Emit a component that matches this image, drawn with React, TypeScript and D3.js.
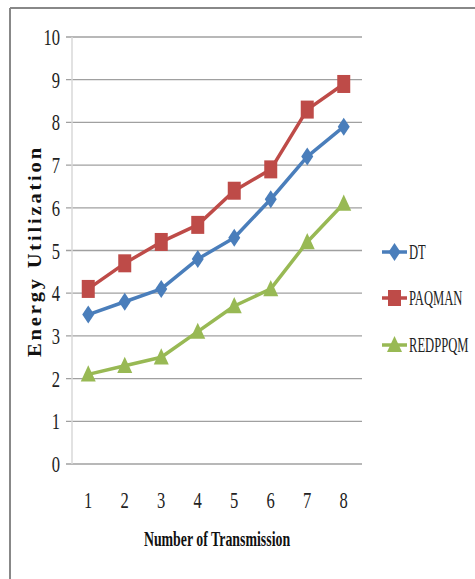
import React from "react";
import * as d3 from "d3";

const categories = [1, 2, 3, 4, 5, 6, 7, 8];
const dtValues = [3.5, 3.8, 4.1, 4.8, 5.3, 6.2, 7.2, 7.9];
const paqmanValues = [4.1, 4.7, 5.2, 5.6, 6.4, 6.9, 8.3, 8.9];
const redppqmValues = [2.1, 2.3, 2.5, 3.1, 3.7, 4.1, 5.2, 6.1];
const yTicks = [0, 1, 2, 3, 4, 5, 6, 7, 8, 9, 10];
const seriesNames = ["DT", "PAQMAN", "REDPPQM"];

const W = 475;
const H = 579;
const plotLeft = 70;
const plotRight = 362;
const plotTop = 37;
const plotBottom = 464;

const colors = ["#4a7ebb", "#be4b48", "#98b954"];
const numFont = "'Liberation Serif', serif";

function marker(kind: number, x: number, y: number, color: string, key: string) {
  if (kind === 0) {
    const s = 6, h = 9;
    return <path key={key} d={`M${x},${y - h}L${x + s},${y}L${x},${y + h}L${x - s},${y}Z`} fill={color} />;
  }
  if (kind === 1) {
    return <rect key={key} x={x - 6.5} y={y - 9} width={13} height={18} fill={color} />;
  }
  const s = 7.5, h = 9;
  return <path key={key} d={`M${x},${y - h}L${x + s},${y + h * 0.8}L${x - s},${y + h * 0.8}Z`} fill={color} />;
}

export default function App() {
  const x = d3.scaleBand<number>().domain(categories).range([plotLeft, plotRight]);
  const y = d3.scaleLinear().domain([0, 10]).range([plotBottom, plotTop]);
  const cx = (c: number) => (x(c) as number) + x.bandwidth() / 2;
  const series = [dtValues, paqmanValues, redppqmValues];
  const line = d3
    .line<number>()
    .x((_, i) => cx(categories[i]))
    .y((v) => y(v));

  const legendY = [252, 298, 345];

  return (
    <svg width={W} height={H} style={{ position: "absolute", left: 0, top: 0, background: "#fff" }}>
      <rect x={0} y={0} width={W} height={H} fill="#fff" />
      <line x1={10} x2={W} y1={8} y2={8} stroke="#888" strokeWidth={2} />
      <line x1={10} x2={10} y1={8} y2={H} stroke="#888" strokeWidth={2} />

      {yTicks.map((t) => (
        <g key={t}>
          <line x1={66} x2={plotRight} y1={y(t)} y2={y(t)} stroke="#a0a0a0" strokeWidth={1.3} />
          <text
            transform={`translate(60,${y(t) + 8}) scale(0.72,1)`}
            textAnchor="end"
            fontFamily={numFont}
            fontSize={23}
            fill="#222"
          >
            {t}
          </text>
        </g>
      ))}
      <line x1={72} x2={72} y1={plotTop} y2={plotBottom} stroke="#d8d8d8" strokeWidth={1.5} />

      {categories.map((c) => (
        <text
          key={c}
          transform={`translate(${cx(c)},${508}) scale(0.72,1)`}
          textAnchor="middle"
          fontFamily={numFont}
          fontSize={23}
          fill="#222"
        >
          {c}
        </text>
      ))}

      {series.map((vals, si) => (
        <g key={si}>
          <path d={line(vals) as string} fill="none" stroke={colors[si]} strokeWidth={3.5} strokeLinejoin="round" />
          {vals.map((v, i) => marker(si, cx(categories[i]), y(v), colors[si], `${si}-${i}`))}
        </g>
      ))}

      <text
        transform={`translate(217,546) scale(0.63,1)`}
        textAnchor="middle"
        fontFamily={numFont}
        fontWeight="bold"
        fontSize={22}
        fill="#111"
      >
        Number of Transmission
      </text>

      <text
        transform={`translate(41,251) rotate(-90) scale(1.08,1)`}
        textAnchor="middle"
        fontFamily={numFont}
        fontWeight="bold"
        fontSize={19}
        letterSpacing={2.6}
        fill="#111"
      >
        Energy Utilization
      </text>

      {seriesNames.map((n, i) => (
        <g key={n}>
          <line x1={382} x2={407} y1={legendY[i]} y2={legendY[i]} stroke={colors[i]} strokeWidth={3.5} />
          {i === 1 ? (
            <rect x={388} y={legendY[i] - 8} width={13} height={16} fill={colors[i]} />
          ) : i === 0 ? (
            <path d={`M394.5,${legendY[i] - 9}L400.5,${legendY[i]}L394.5,${legendY[i] + 9}L388.5,${legendY[i]}Z`} fill={colors[i]} />
          ) : (
            <path d={`M394.5,${legendY[i] - 9}L402,${legendY[i] + 7}L387,${legendY[i] + 7}Z`} fill={colors[i]} />
          )}
          <text
            transform={`translate(409,${legendY[i] + 7}) scale(0.6,1)`}
            fontFamily={numFont}
            fontSize={21}
            fill="#222"
          >
            {n}
          </text>
        </g>
      ))}
    </svg>
  );
}
